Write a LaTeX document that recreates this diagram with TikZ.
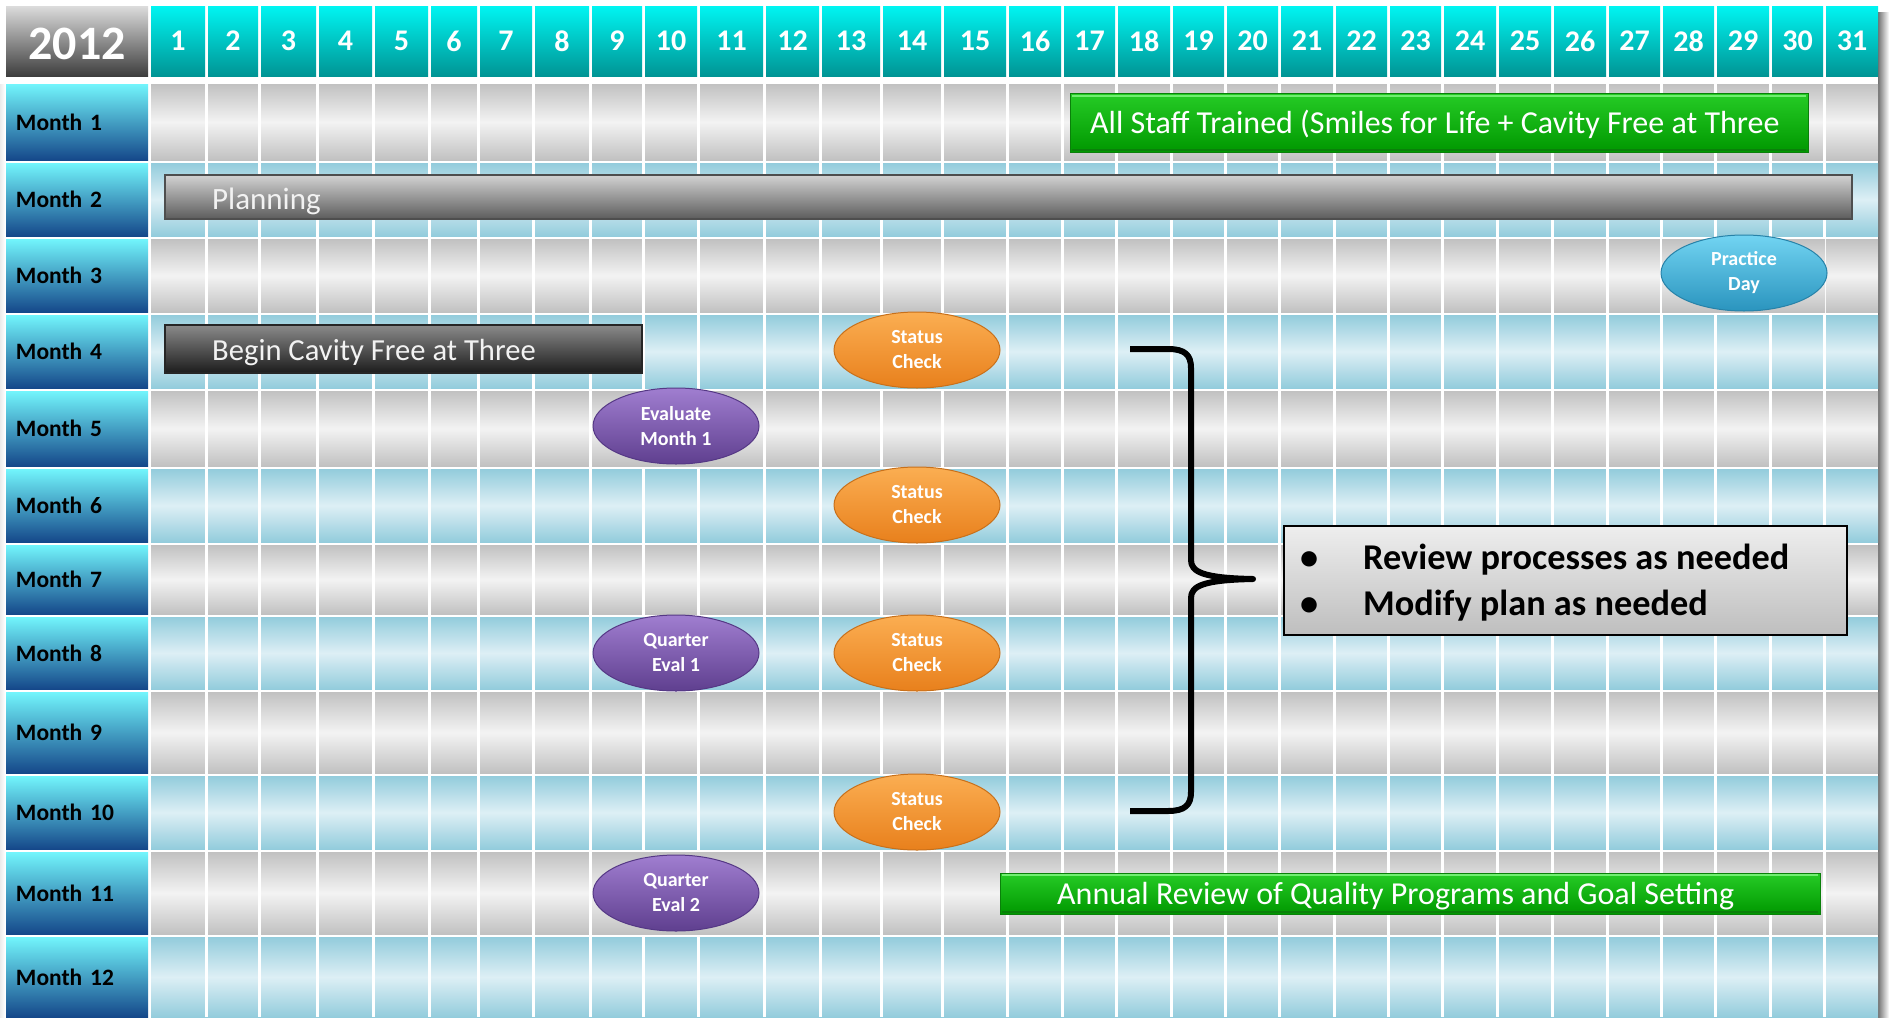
\documentclass[tikz,border=0pt]{standalone}
\usepackage{fontspec}
\setmainfont{Carlito}
\usetikzlibrary{shapes.geometric}
\definecolor{gD}{HTML}{C1C1C1}
\definecolor{gL}{HTML}{F3F3F3}
\definecolor{bD}{HTML}{93CCDC}
\definecolor{bL}{HTML}{DDEFF5}
\definecolor{labT}{HTML}{72F5FC}
\definecolor{labB}{HTML}{15488A}
\definecolor{hdT}{HTML}{00F5F2}
\definecolor{hdB}{HTML}{009494}
\definecolor{yrT}{HTML}{DCDCDC}
\definecolor{yrB}{HTML}{3E3E3E}
\definecolor{orT}{HTML}{FBAE52}
\definecolor{orB}{HTML}{E8801C}
\definecolor{orE}{HTML}{C8701A}
\definecolor{puT}{HTML}{A07ED0}
\definecolor{puB}{HTML}{5F3F8F}
\definecolor{puE}{HTML}{553885}
\definecolor{blT}{HTML}{72D4F2}
\definecolor{blB}{HTML}{2A94BE}
\definecolor{blE}{HTML}{2782A8}
\definecolor{grT}{HTML}{26CC26}
\definecolor{grB}{HTML}{009800}
\definecolor{grE}{HTML}{0A800A}
\definecolor{grH}{HTML}{70EE70}
\definecolor{plT}{HTML}{D2D2D2}
\definecolor{plB}{HTML}{5C5C5C}
\definecolor{plE}{HTML}{4E4E4E}
\definecolor{bgT}{HTML}{8A8A8A}
\definecolor{bgB}{HTML}{1C1C1C}
\definecolor{bxT}{HTML}{EEEEEE}
\definecolor{bxB}{HTML}{BEBEBE}
\begin{document}
\begin{tikzpicture}[x=1pt,y=-1pt,
  grayrow/.style={top color=gD,bottom color=gD,middle color=gL},
  bluerow/.style={top color=bD,bottom color=bD,middle color=bL},
  hdr/.style={rectangle,inner sep=0pt,minimum height=70pt,top color=hdT,bottom color=hdB,
    text=white,font=\bfseries\fontsize{30}{36}\selectfont},
  lab/.style={rectangle,inner xsep=10pt,inner ysep=0pt,minimum width=142pt,text width=122pt,
    align=left,top color=labT,bottom color=labB,text=black,font=\bfseries\fontsize{23.5}{28}\selectfont},
  evt/.style={ellipse,minimum width=166pt,minimum height=76pt,inner sep=0pt,align=center,
    text=white,line width=1pt,font=\bfseries\fontsize{20}{25}\selectfont},
  orangeevt/.style={evt,top color=orT,bottom color=orB,draw=orE},
  purpleevt/.style={evt,top color=puT,bottom color=puB,draw=puE},
  blueevt/.style={evt,top color=blT,bottom color=blB,draw=blE},
  greenbar/.style={rectangle,inner sep=0pt,top color=grT,bottom color=grB,draw=grE,line width=1pt},
  bartext/.style={inner sep=0pt,anchor=base west,text=white!95!black},
  graybar/.style={rectangle,inner sep=0pt,line width=1.5pt},
  bracestyle/.style={line width=6pt,line join=round,line cap=butt,black}
]
\useasboundingbox (0,0) rectangle (1889,1017);
\fill[white] (0,0) rectangle (1889,1017);
% right shadow
\shade[left color=black!55,right color=white] (1878,12) rectangle (1889,1017);
\shade[left color=black!8,right color=white] (5,84) rectangle (0,1017);

% year header
\node[rectangle,inner sep=0pt,minimum width=142pt,minimum height=70pt,top color=yrT,bottom color=yrB] (yr) at (77,41) {};
\node[inner sep=0pt,text=white,font=\bfseries\fontsize{48}{56}\selectfont] (yrtxt) at (77,44) {2012};

% day headers
\foreach \n/\l/\r in {1/151/205,2/208/258,3/261/316,4/319/372,5/375/428,6/431/477,7/480/532,8/535/589,9/592/642,10/645/697,11/700/763,12/766/819,13/822/880,14/883/941,15/944/1006,16/1009/1061,17/1064/1115,18/1118/1170,19/1173/1224,20/1227/1278,21/1281/1333,22/1336/1387,23/1390/1441,24/1444/1496,25/1499/1551,26/1554/1606,27/1609/1660,28/1663/1714,29/1717/1769,30/1772/1823,31/1826/1878}
  \node[hdr,minimum width={\r-\l}] (d\n) at ({(\l+\r)/2},41) {\n};

% month rows
\foreach \m/\t/\b/\s in {1/84/160/grayrow,2/163/236/bluerow,3/239/312/grayrow,4/315/388/bluerow,5/391/466/grayrow,6/469/542/bluerow,7/545/614/grayrow,8/617/689/bluerow,9/692/773/grayrow,10/776/849/bluerow,11/852/934/grayrow,12/937/1017/bluerow}{
  \shade[\s] (151,\t) rectangle (1878,\b);
  \node[lab,minimum height={\b-\t}] (m\m) at (77,{(\t+\b)/2}) {Month \m};
}
% column gaps
\foreach \r/\l in {205/208,258/261,316/319,372/375,428/431,477/480,532/535,589/592,642/645,697/700,763/766,819/822,880/883,941/944,1006/1009,1061/1064,1115/1118,1170/1173,1224/1227,1278/1281,1333/1336,1387/1390,1441/1444,1496/1499,1551/1554,1606/1609,1660/1663,1714/1717,1769/1772,1823/1826}
  \fill[white] (\r,84) rectangle (\l,1017);

% patches behind events
\shade[grayrow] (1662,239) rectangle (1825,312);
\shade[bluerow] (832,315) rectangle (1005,388);
\shade[bluerow] (832,469) rectangle (1005,542);
\shade[bluerow] (832,617) rectangle (1005,689);
\shade[bluerow] (832,776) rectangle (1005,849);
\shade[grayrow] (592,391) rectangle (762,466);
\shade[bluerow] (592,617) rectangle (762,689);
\shade[grayrow] (592,852) rectangle (762,934);

% bars
\node[greenbar,minimum width=738pt,minimum height=59pt] (staff) at (1439,122.5) {};
\draw[grH,line width=2pt] (1072,96) -- (1806,96);
\draw[grE,line width=2pt] (1072,150) -- (1806,150);
\node[bartext,text=white,font=\fontsize{32}{38}\selectfont] (stafftxt) at (1090,133)
  {All Staff Trained (Smiles for Life + Cavity Free at Three};

\node[graybar,top color=plT,bottom color=plB,draw=plE,minimum width=1687pt,minimum height=44pt] (plan) at (1008.5,197) {};
\node[bartext,font=\fontsize{31}{36}\selectfont] (plantxt) at (212,209) {Planning};

\node[graybar,top color=bgT,bottom color=bgB,draw=black!85,minimum width=477pt,minimum height=48pt] (begin) at (403.5,349) {};
\node[bartext,font=\fontsize{30.6}{36}\selectfont] (begintxt) at (212,360) {Begin Cavity Free at Three};

\node[greenbar,minimum width=820pt,minimum height=41pt] (annual) at (1410,893.5) {};
\draw[grH,line width=2pt] (1002,875) -- (1818,875);
\draw[grE,line width=2pt] (1002,912) -- (1818,912);
\node[bartext,text=white,font=\fontsize{32}{38}\selectfont] (annualtxt) at (1057,904)
  {Annual Review of Quality Programs and Goal Setting};

% events
\node[blueevt] (pd) at (1744,273) {Practice\\Day};
\node[orangeevt] (sc1) at (917,350) {Status\\Check};
\node[orangeevt] (sc2) at (917,505) {Status\\Check};
\node[orangeevt] (sc3) at (917,653) {Status\\Check};
\node[orangeevt] (sc4) at (917,812) {Status\\Check};
\node[purpleevt] (ev1) at (676,426) {Evaluate\\Month 1};
\node[purpleevt] (qe1) at (676,653) {Quarter\\Eval 1};
\node[purpleevt] (qe2) at (676,893) {Quarter\\Eval 2};

% brace
\coordinate (bt) at (1130,349);
\coordinate (bm) at (1253,579);
\coordinate (bb) at (1130,811);
\draw[bracestyle] (bt) -- (1168,349) .. controls (1185,349) and (1191,355) .. (1191,368)
  -- (1191,560) .. controls (1191,572) and (1203,578) .. (bm)
  .. controls (1203,580) and (1191,586) .. (1191,598)
  -- (1191,792) .. controls (1191,805) and (1185,811) .. (1168,811) -- (bb);

% review box
\node[rectangle,draw=black,line width=2pt,top color=bxT,bottom color=bxB,minimum width=563pt,
  minimum height=109pt] (review) at (1565.5,580.5) {};
\node[inner sep=0pt,anchor=base west,align=left,font=\bfseries\fontsize{36.3}{46}\selectfont] (reviewtxt) at (1300,615)
  {\makebox[63pt][l]{•}Review processes as needed\\\makebox[63pt][l]{•}Modify plan as needed};
\end{tikzpicture}
\end{document}
